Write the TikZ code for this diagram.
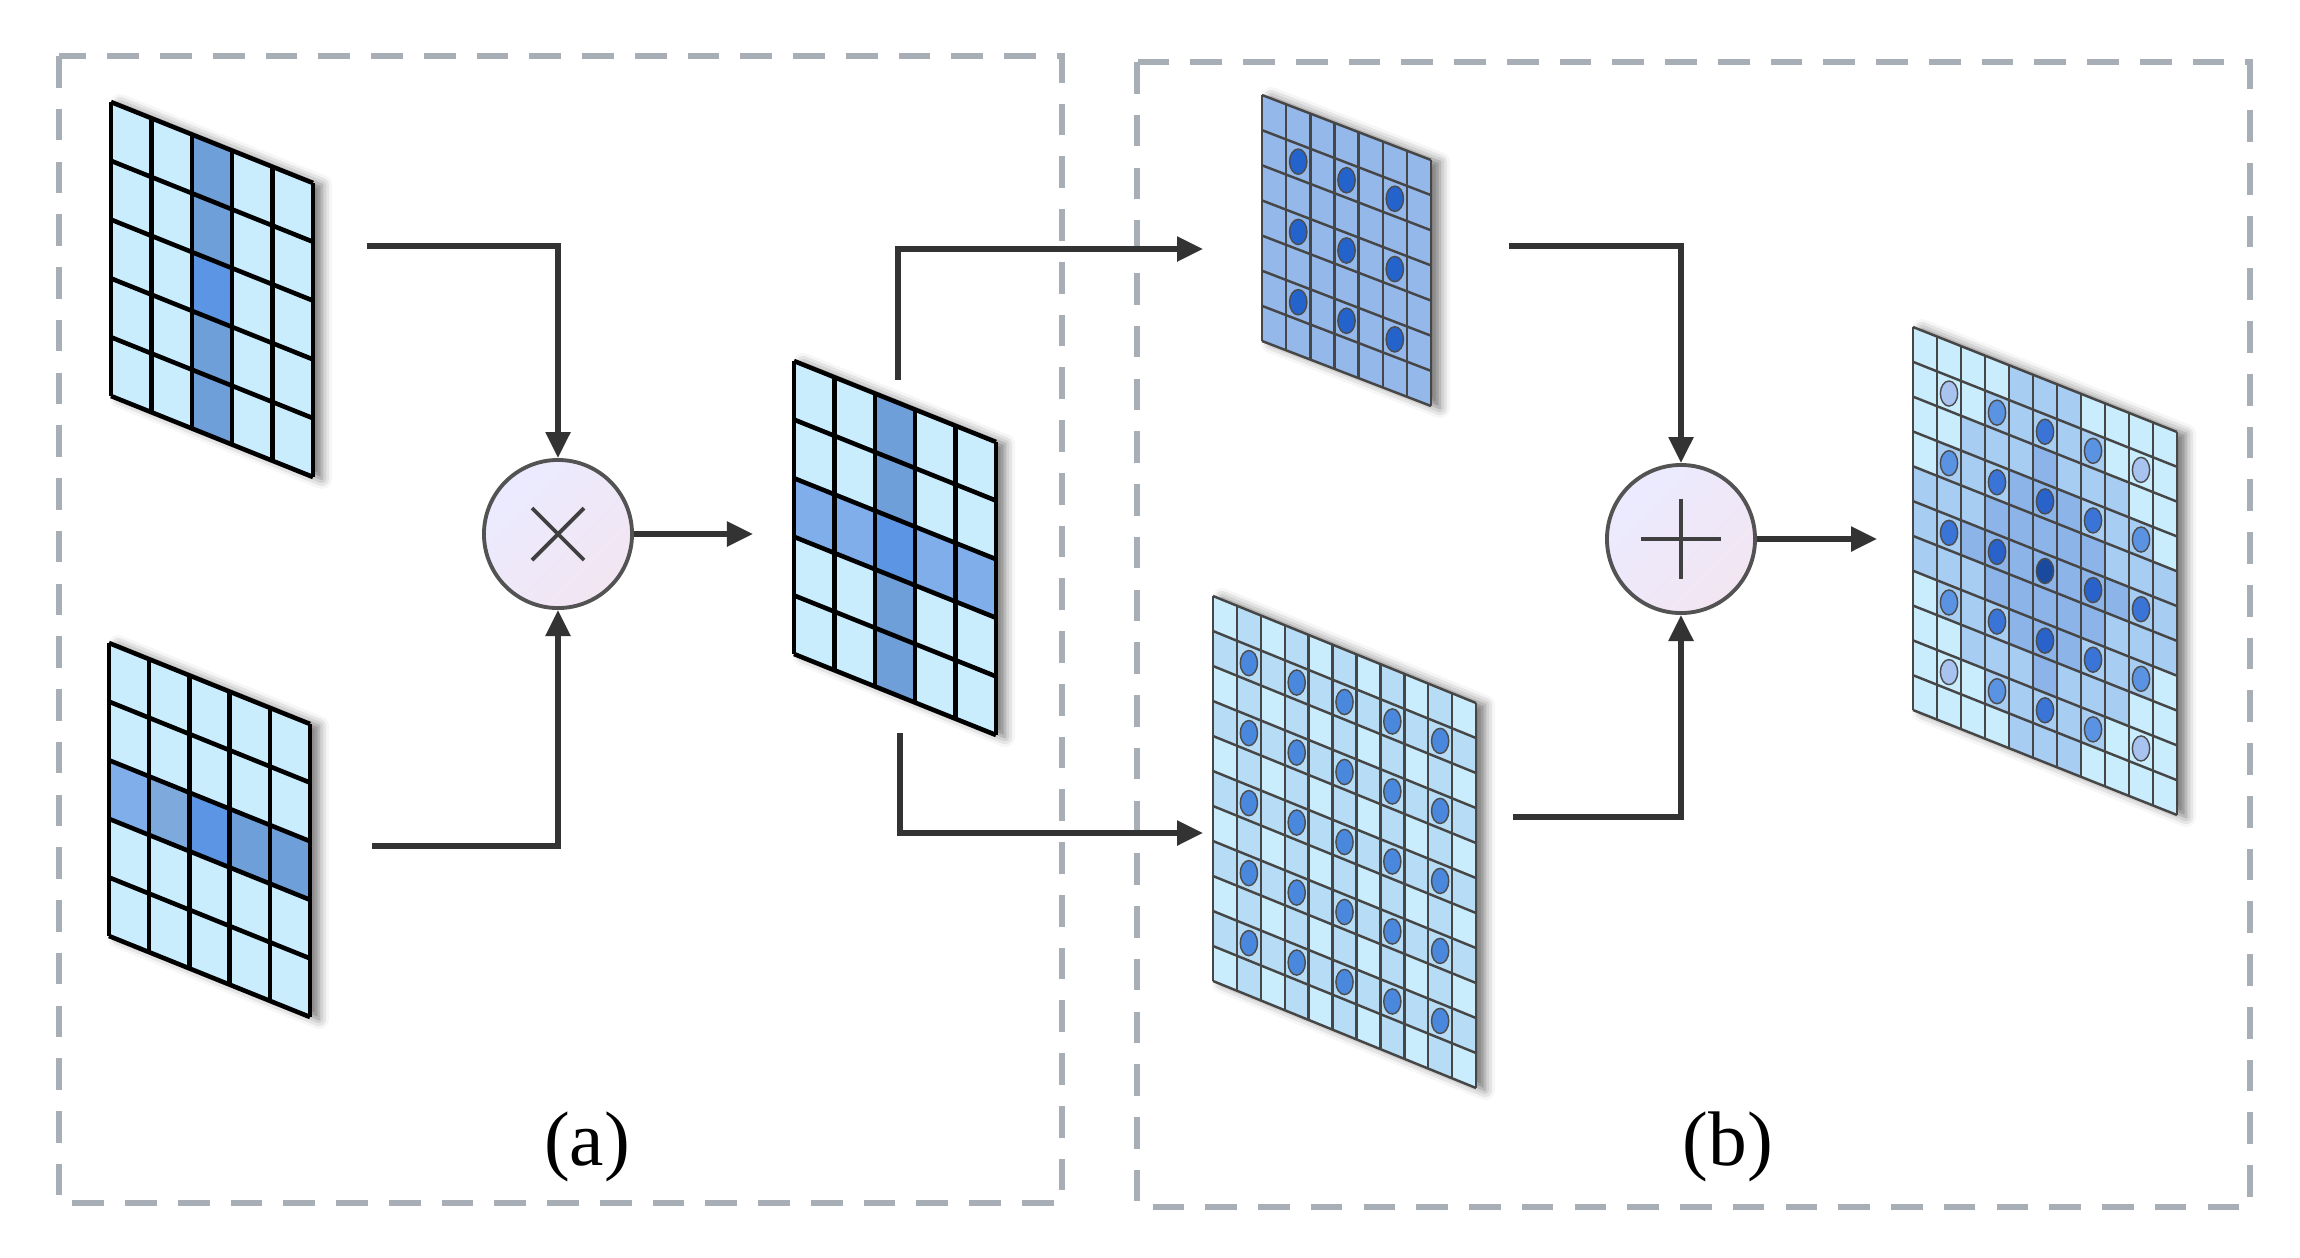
\documentclass[tikz,border=0pt]{standalone}
\usepackage{fontspec}
\setmainfont{Liberation Serif}
\usetikzlibrary{arrows.meta,shadows.blur,calc}
\definecolor{lc}{HTML}{C9EDFD}
\definecolor{hcol}{HTML}{6F9FD8}
\definecolor{hrow}{HTML}{80AEEA}
\definecolor{hmid}{HTML}{5B95E3}
\definecolor{dcell}{HTML}{94B8EA}
\definecolor{ddot}{HTML}{2563CC}
\definecolor{ecell}{HTML}{B6DDF5}
\definecolor{edot}{HTML}{4A88DE}
\definecolor{fmid}{HTML}{A8CDF2}
\definecolor{fin}{HTML}{8DB4E8}
\definecolor{f0}{HTML}{1A4A9E}
\definecolor{f1}{HTML}{2A62CC}
\definecolor{f2}{HTML}{3A74D6}
\definecolor{f3}{HTML}{5A93E2}
\definecolor{f4}{HTML}{A9C3F0}
\definecolor{dashc}{HTML}{A8AEB6}
\definecolor{arrc}{HTML}{333333}
\newcommand\setgrid[6]{\def\gX{#1}\def\gY{#2}\def\gW{#3}\def\gH{#4}\def\gS{#5}\def\gN{#6}}
\newcommand\gp[2]{({\gX+(#1)*\gW/\gN},{\gY+(#1)*\gS/\gN+(#2)*\gH/\gN})}
\newcommand\cellfill[3]{\fill[#3] \gp{#1}{#2} -- \gp{#1+1}{#2} -- \gp{#1+1}{#2+1} -- \gp{#1}{#2+1} -- cycle;}
\newcommand\gshadow{\path[fill=white,blur shadow={shadow xshift=0.09cm,shadow yshift=-0.02cm,shadow blur radius=0.1cm,shadow opacity=55}] \gp{0}{0} -- \gp{\gN}{0} -- \gp{\gN}{\gN} -- \gp{0}{\gN} -- cycle;}
\newcommand\gridlines[1]{\foreach \k in {0,...,\gN}{\draw[#1] \gp{\k}{0} -- \gp{\k}{\gN}; \draw[#1] \gp{0}{\k} -- \gp{\gN}{\k};}}
\newcommand\gdot[3]{\fill[#3,draw=gray!60!black,line width=0.4pt] ({\gX+(#1+0.5)*\gW/\gN},{\gY+(#1+0.5)*\gS/\gN+(#2+0.5)*\gH/\gN}) ellipse [x radius={0.36*\gW/\gN*0.01cm}, y radius={0.36*\gH/\gN*0.01cm}];}
\tikzset{
  thickgrid/.style={black,line width=1.3pt},
  thingrid/.style={gray!55!black,line width=0.7pt},
  conn/.style={arrc,line width=1.6pt,-{Triangle[length=0.26cm,width=0.24cm]}},
  op/.style={circle,minimum size=1.48cm,draw=gray!65!black,line width=1.1pt,
    left color=blue!8,right color=violet!10,shading angle=45,inner sep=0pt},
  box/.style={dashc,line width=1.6pt,dash pattern=on 9pt off 6pt},
  lab/.style={font=\fontsize{22}{26}\selectfont}
}
\begin{document}
\begin{tikzpicture}[x=0.01cm,y=-0.01cm]
\useasboundingbox (0,0) rectangle (2300,1257);
\draw[box] (59,56) rectangle (1062,1203);
\draw[box] (1137,62) rectangle (2250,1207);
\node[lab] (la) at (587,1147) {(a)};
\node[lab] (lb) at (1728,1147) {(b)};
% grid A
\setgrid{111}{102}{202}{294}{81}{5}
\gshadow
\foreach \i in {0,...,4}{\foreach \j in {0,...,4}{\cellfill{\i}{\j}{lc}}}
\foreach \j in {0,1,3,4}{\cellfill{2}{\j}{hcol}}
\cellfill{2}{2}{hmid}
\gridlines{thickgrid}
% grid B
\setgrid{109}{643}{201}{293}{81}{5}
\gshadow
\foreach \i in {0,...,4}{\foreach \j in {0,...,4}{\cellfill{\i}{\j}{lc}}}
\cellfill{0}{2}{hrow}\cellfill{1}{2}{hcol!90!white}\cellfill{2}{2}{hmid}\cellfill{3}{2}{hcol}\cellfill{4}{2}{hcol}
\gridlines{thickgrid}
% grid C
\setgrid{794}{361}{202}{293}{81}{5}
\gshadow
\foreach \i in {0,...,4}{\foreach \j in {0,...,4}{\cellfill{\i}{\j}{lc}}}
\foreach \j in {0,1,3,4}{\cellfill{2}{\j}{hcol}}
\foreach \i in {0,1,3,4}{\cellfill{\i}{2}{hrow}}
\cellfill{2}{2}{hmid}
\gridlines{thickgrid}
% grid D
\setgrid{1262}{95}{169}{246}{65}{7}
\gshadow
\foreach \i in {0,...,6}{\foreach \j in {0,...,6}{\cellfill{\i}{\j}{dcell}}}
\foreach \i in {1,3,5}{\foreach \j in {1,3,5}{\gdot{\i}{\j}{ddot}}}
\gridlines{thingrid}
% grid E
\setgrid{1213}{596}{263}{385}{107}{11}
\gshadow
\foreach \i in {0,...,10}{\foreach \j in {0,...,10}{
  \pgfmathtruncatemacro\m{or(isodd(\i),isodd(\j))}
  \ifnum\m=1 \cellfill{\i}{\j}{ecell}\else\cellfill{\i}{\j}{lc}\fi}}
\foreach \i in {1,3,5,7,9}{\foreach \j in {1,3,5,7,9}{\gdot{\i}{\j}{edot}}}
\gridlines{thingrid}
% grid F
\setgrid{1913}{327}{264}{383}{105}{11}
\gshadow
\foreach \i in {0,...,10}{\foreach \j in {0,...,10}{
  \pgfmathtruncatemacro\dd{abs(\i-5)+abs(\j-5)}
  \ifnum\dd<4 \cellfill{\i}{\j}{fin}\else
  \ifnum\dd<7 \cellfill{\i}{\j}{fmid}\else\cellfill{\i}{\j}{lc}\fi\fi}}
\foreach \i in {1,3,5,7,9}{\foreach \j in {1,3,5,7,9}{
  \pgfmathtruncatemacro\dd{(abs(\i-5)+abs(\j-5))/2}
  \ifcase\dd \gdot{\i}{\j}{f0}\or\gdot{\i}{\j}{f1}\or\gdot{\i}{\j}{f2}\or\gdot{\i}{\j}{f3}\else\gdot{\i}{\j}{f4}\fi}}
\gridlines{thingrid}
% operators
\node[op] (mul) at (558,534) {};
\draw[gray!50!black,line width=1.1pt] ($(mul)+(-26,-26)$) -- ($(mul)+(26,26)$) ($(mul)+(-26,26)$) -- ($(mul)+(26,-26)$);
\node[op] (add) at (1681,539) {};
\draw[gray!50!black,line width=1.1pt] ($(add)+(-40,0)$) -- ($(add)+(40,0)$) ($(add)+(0,-40)$) -- ($(add)+(0,40)$);
% connectors
\coordinate (a1) at (367,246);
\coordinate (b1) at (372,846);
\coordinate (c0) at (753,534);
\coordinate (c1) at (898,380);
\coordinate (d0) at (1203,249);
\coordinate (c2) at (900,733);
\coordinate (e0) at (1203,833);
\coordinate (d1) at (1509,246);
\coordinate (e1) at (1513,817);
\coordinate (f0) at (1877,539);
\draw[conn] (a1) -| (mul.north);
\draw[conn] (b1) -| (mul.south);
\draw[conn] (mul.east) -- (c0);
\draw[conn] (c1) |- (d0);
\draw[conn] (c2) |- (e0);
\draw[conn] (d1) -| (add.north);
\draw[conn] (e1) -| (add.south);
\draw[conn] (add.east) -- (f0);
\end{tikzpicture}
\end{document}
